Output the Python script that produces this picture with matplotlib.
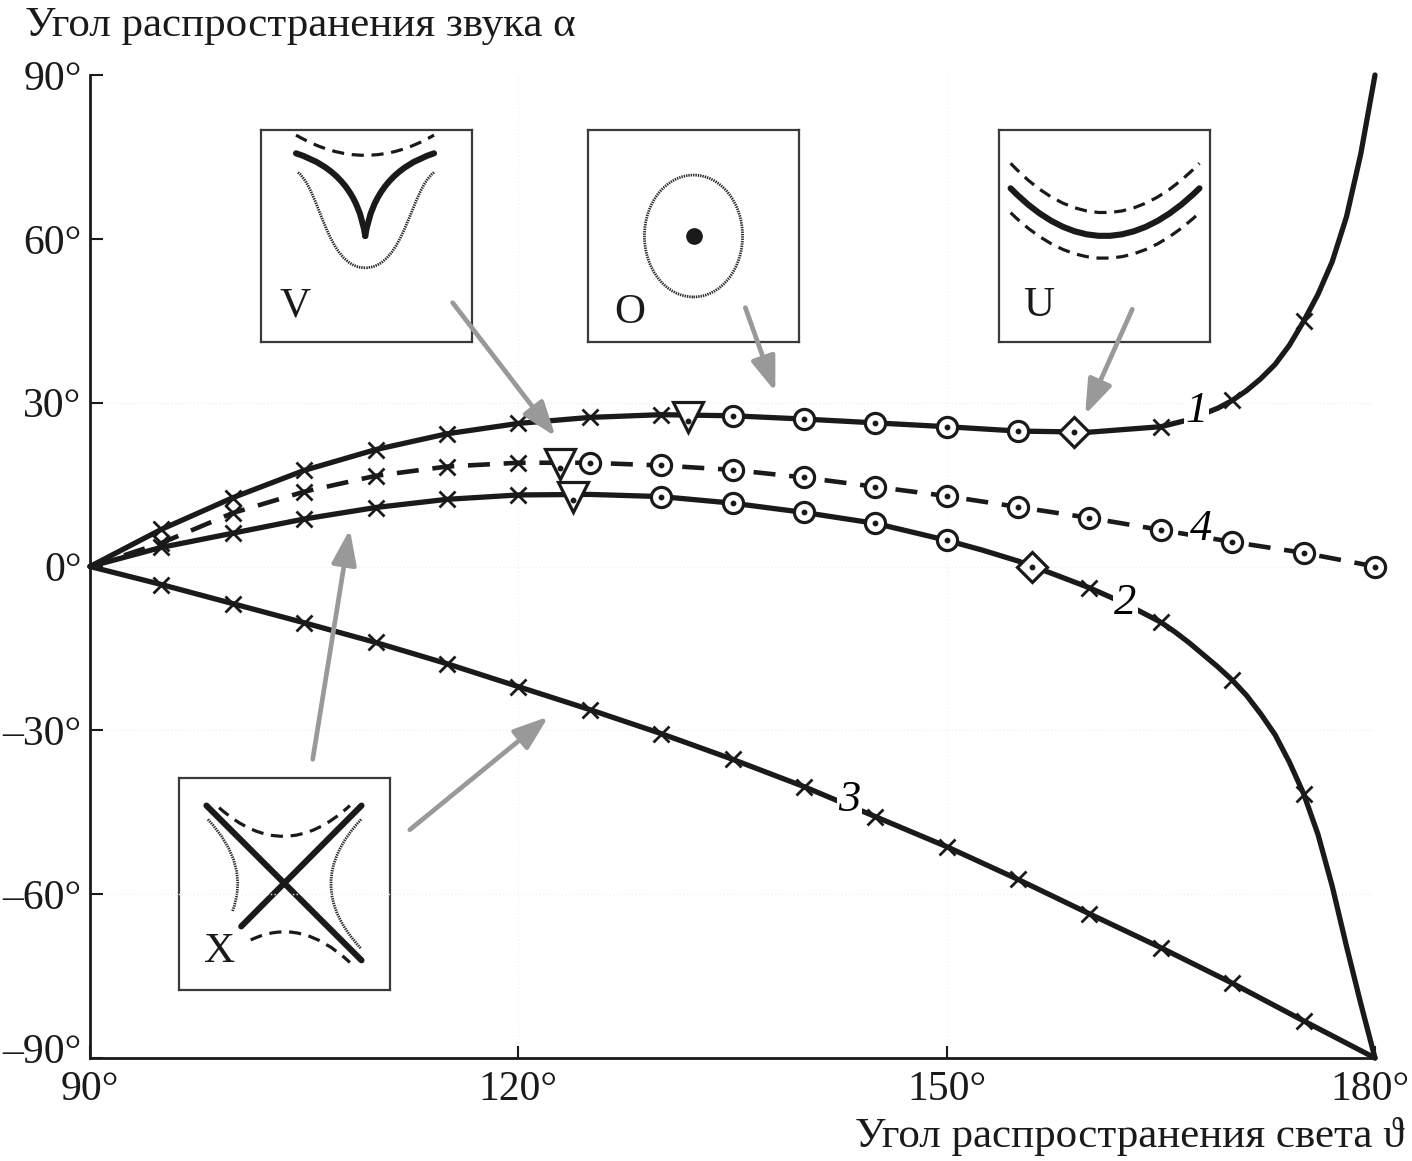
#!/usr/bin/env python3
"""
Sound propagation angle alpha vs light propagation angle theta,
four branches with interaction-type insets (V, O, U, X).
Writes out.png
"""

import matplotlib.pyplot as plt
from matplotlib.path import Path
from matplotlib.patches import PathPatch, Ellipse
from matplotlib.transforms import ScaledTranslation

plt.rcParams["font.family"] = ["Liberation Serif", "DejaVu Serif"]

# ---- curve data (degrees) ----
c1_x = [90, 95, 100, 105, 110, 115, 120, 125, 130, 135, 140, 145, 150, 155, 160, 165,
        167, 169, 170, 171, 172, 173, 174, 175, 176, 177, 178, 179, 180]
c1_y = [0, 6.8, 12.6, 17.6, 21.4, 24.3, 26.2, 27.3, 27.8, 27.6, 27.0, 26.3, 25.6, 24.8,
        24.6, 25.6, 26.9, 29.0, 30.4, 32.2, 34.4, 37.0, 40.5, 44.9, 49.8, 55.8, 64.0,
        75.5, 90]

c2_x = [90, 95, 100, 105, 110, 115, 120, 125, 130, 135, 140, 145, 150, 152.5, 155, 157.5,
        160, 162.5, 165, 166, 167, 168, 169, 170, 171, 172, 173, 174, 175, 176, 177, 178,
        179, 180]
c2_y = [0, 3.5, 6.1, 8.7, 10.8, 12.3, 13.1, 13.2, 12.8, 11.6, 9.9, 7.9, 4.8, 3.0, 1.0,
        -1.4, -3.9, -6.8, -10.2, -12.0, -14.0, -16.2, -18.4, -20.8, -23.6, -27.0, -30.8,
        -35.8, -41.6, -49.0, -58.5, -69.5, -80.0, -90]

c3_x = [90, 95, 100, 105, 110, 115, 120, 125, 130, 135, 140, 145, 150, 155, 160, 165,
        170, 175, 180]
c3_y = [0, -3.3, -6.8, -10.3, -13.9, -17.8, -22.0, -26.2, -30.6, -35.3, -40.3, -45.8,
        -51.3, -57.3, -63.6, -69.8, -76.3, -83.2, -90]

c4_x = [90, 95, 100, 105, 110, 115, 120, 125, 130, 135, 140, 145, 150, 155, 160, 165,
        170, 175, 180]
c4_y = [0, 4.3, 9.8, 13.7, 16.6, 18.3, 19.0, 19.0, 18.5, 17.7, 16.3, 14.6, 12.9, 10.9,
        8.9, 6.7, 4.5, 2.5, 0]

# marker positions (which points carry which symbol)
c1_cross_x = [95, 100, 105, 110, 115, 120, 125, 130, 165, 170, 175]
c1_cross_y = [6.8, 12.6, 17.6, 21.4, 24.3, 26.2, 27.3, 27.8, 25.6, 30.4, 44.9]
c1_tri = (131.9, 27.3)
c1_circ_x = [135, 140, 145, 150, 155]
c1_circ_y = [27.6, 27.0, 26.3, 25.6, 24.8]
c1_diam = (158.9, 24.6)

c2_cross_x = [95, 100, 105, 110, 115, 120, 160, 165, 170, 175]
c2_cross_y = [3.5, 6.1, 8.7, 10.8, 12.3, 13.1, -3.9, -10.2, -20.8, -41.6]
c2_tri = (123.8, 12.8)
c2_circ_x = [130, 135, 140, 145, 150]
c2_circ_y = [12.8, 11.6, 9.9, 7.9, 4.8]
c2_diam = (156.0, 0.0)

c3_cross_x = [95, 100, 105, 110, 115, 120, 125, 130, 135, 140, 145, 150, 155, 160, 165, 170, 175]
c3_cross_y = [-3.3, -6.8, -10.3, -13.9, -17.8, -22.0, -26.2, -30.6, -35.3, -40.3, -45.8,
              -51.3, -57.3, -63.6, -69.8, -76.3, -83.2]

c4_cross_x = [95, 100, 105, 110, 115, 120]
c4_cross_y = [4.3, 9.8, 13.7, 16.6, 18.3, 19.0]
c4_tri = (122.9, 18.7)
c4_circ_x = [125, 130, 135, 140, 145, 150, 155, 160, 165, 170, 175, 180]
c4_circ_y = [19.0, 18.5, 17.7, 16.3, 14.6, 12.9, 10.9, 8.9, 6.7, 4.5, 2.5, 0]

curve_labels = ["1", "2", "3", "4"]
curve_label_xy = [(167.5, 28.4), (162.5, -6.6), (143.2, -42.7), (167.8, 6.9)]

x_ticks = [90, 120, 150, 180]
x_ticklabels = ["90°", "120°", "150°", "180°"]
y_ticks = [90, 60, 30, 0, -30, -60, -90]
y_ticklabels = ["90°", "60°", "30°", "0°", "\u201330°", "\u201360°", "\u201390°"]

# arrows from insets: (tail, head)
arrows = [
    ((115.4, 48.3), (122.6, 23.8)),
    ((135.9, 47.4), (138.0, 32.0)),
    ((163.0, 47.1), (159.7, 27.8)),
    ((105.6, -35.3), (108.2, 6.8)),
    ((112.4, -48.2), (122.1, -27.5)),
]

W, H = 1412, 1161
FS = 31
TFS = 30
fig = plt.figure(figsize=(W / 100, H / 100), dpi=100)
ax = fig.add_axes([90 / W, 103 / H, 1285 / W, 983 / H])
ax.set_zorder(5)
ax.patch.set_alpha(0)

LW = 3.8
K = "#1a1a1a"

# faint guide lines
for y in [30, 0, -30, -60]:
    ax.axhline(y, color="#f0f0f0", lw=1.0, ls=":", zorder=0)
for x in [120, 150]:
    ax.axvline(x, color="#f4f4f4", lw=1.0, ls=":", zorder=0)

ax.plot(c1_x, c1_y, color=K, lw=LW, solid_capstyle="round", solid_joinstyle="round",
        clip_on=False, zorder=2)
ax.plot(c2_x, c2_y, color=K, lw=LW, solid_capstyle="round", solid_joinstyle="round",
        clip_on=False, zorder=2)
ax.plot(c3_x, c3_y, color=K, lw=LW, solid_capstyle="round", clip_on=False, zorder=2)
ax.plot(c4_x, c4_y, color=K, lw=3.3, ls=(0, (4.8, 3.0)), clip_on=False, zorder=2)

cross_kw = dict(ls="none", marker="x", ms=11, mew=2.0, color=K, zorder=3, clip_on=False)
circ_kw = dict(ls="none", marker="o", ms=14.5, mew=2.3, mfc="white", mec=K, zorder=4,
               clip_on=False)
tri_kw = dict(ls="none", marker="v", ms=21, mew=2.3, mfc="white", mec=K, zorder=4)
diam_kw = dict(ls="none", marker="D", ms=15.5, mew=2.3, mfc="white", mec=K, zorder=4)
dot_kw = dict(ls="none", marker="o", ms=3.2, color=K, zorder=5, clip_on=False)

ax.plot(c1_cross_x, c1_cross_y, **cross_kw)
ax.plot(c2_cross_x, c2_cross_y, **cross_kw)
ax.plot(c3_cross_x, c3_cross_y, **cross_kw)
ax.plot(c4_cross_x, c4_cross_y, **cross_kw)

for cx, cy in [(c1_circ_x, c1_circ_y), (c2_circ_x, c2_circ_y), (c4_circ_x, c4_circ_y)]:
    ax.plot(cx, cy, **circ_kw)
    ax.plot(cx, cy, **dot_kw)
for t in [c1_tri, c2_tri, c4_tri]:
    ax.plot([t[0]], [t[1]], **tri_kw)
    ax.plot([t[0]], [t[1] - 0.6], **dot_kw)
for d in [c1_diam, c2_diam]:
    ax.plot([d[0]], [d[1]], **diam_kw)
    ax.plot([d[0]], [d[1]], **dot_kw)

for lab, (lx, ly) in zip(curve_labels, curve_label_xy):
    ax.text(lx, ly, lab, fontsize=32, style="italic", ha="center", va="center", zorder=6,
            bbox=dict(facecolor="white", edgecolor="none", pad=1.0))

for (tx, ty), (hx, hy) in arrows:
    ax.annotate("", xy=(hx, hy), xytext=(tx, ty), annotation_clip=False, zorder=7,
                arrowprops=dict(arrowstyle="-|>,head_length=2.1,head_width=0.75",
                                color="#999999", lw=3.4, shrinkA=0, shrinkB=0))

ax.set_xlim(90, 180)
ax.set_ylim(-90, 90)
ax.set_xticks(x_ticks)
ax.set_xticklabels(x_ticklabels)
ax.set_yticks(y_ticks)
ax.set_yticklabels(y_ticklabels)
ax.tick_params(direction="in", length=9, width=1.5, labelsize=TFS, colors=K)
ax.tick_params(axis="x", pad=9)
ax.tick_params(axis="y", pad=6)
for side in ["top", "right"]:
    ax.spines[side].set_visible(False)
for side in ["left", "bottom"]:
    ax.spines[side].set_linewidth(2.0)
    ax.spines[side].set_color(K)

# lift the bottom y label a little so it clears the first x label,
# and pull the last x label in so it stays on the canvas
lab_m90 = ax.get_yticklabels()[-1]
lab_m90.set_transform(lab_m90.get_transform() + ScaledTranslation(0, 7 / 72, fig.dpi_scale_trans))
lab_180 = ax.get_xticklabels()[-1]
lab_180.set_transform(lab_180.get_transform() + ScaledTranslation(-4 / 72, 0, fig.dpi_scale_trans))

fig.text(25 / W, 1 - 26 / H, "Угол распространения звука α", fontsize=FS,
         ha="left", va="center", color=K)
fig.text(855 / W, 1 - 1137 / H, "Угол распространения света ϑ", fontsize=FS,
         ha="left", va="center", color=K)

# ---- insets ----
Q = [Path.MOVETO, Path.CURVE3, Path.CURVE3]
C = [Path.MOVETO, Path.CURVE4, Path.CURVE4, Path.CURVE4]


def make_inset(px_left, px_top, letter, lxy):
    a = fig.add_axes([px_left / W, 1 - (px_top + 212) / H, 211 / W, 212 / H])
    a.set_zorder(1)
    a.set_xlim(0, 1)
    a.set_ylim(0, 1)
    a.set_xticks([])
    a.set_yticks([])
    for s in a.spines.values():
        s.set_linewidth(1.6)
        s.set_color("#3a3a3a")
    a.text(lxy[0], lxy[1], letter, fontsize=31, ha="center", va="center", color=K)
    return a


def add_path(a, verts, codes, **kw):
    a.add_patch(PathPatch(Path(verts, codes), fill=False, **kw))


thick = dict(lw=4.4, edgecolor=K, capstyle="round")
dashed = dict(lw=2.3, edgecolor=K, ls=(0, (3.8, 2.4)))
dotted = dict(lw=2.0, edgecolor="#2a2a2a", ls=(0, (0.5, 0.35)))

# V
v_ax = make_inset(261, 130, "V", (0.16, 0.17))
add_path(v_ax, [(0.166, 0.89), (0.45, 0.80), (0.494, 0.50)], Q, **thick)
add_path(v_ax, [(0.82, 0.89), (0.54, 0.80), (0.494, 0.50)], Q, **thick)
add_path(v_ax, [(0.166, 0.976), (0.494, 0.785), (0.82, 0.976)], Q, **dashed)
add_path(v_ax, [(0.175, 0.80), (0.28, 0.72), (0.31, 0.35), (0.494, 0.35)], C, **dotted)
add_path(v_ax, [(0.82, 0.80), (0.71, 0.72), (0.68, 0.35), (0.494, 0.35)], C, **dotted)

# O
o_ax = make_inset(588, 130, "O", (0.2, 0.14))
o_ax.add_patch(Ellipse((0.5, 0.5), 0.465, 0.575, fill=False, **dotted))
o_ax.plot([0.5], [0.5], marker="o", ms=11, color=K)

# U
u_ax = make_inset(999, 130, "U", (0.19, 0.17))
add_path(u_ax, [(0.055, 0.725), (0.495, 0.275), (0.95, 0.725)], Q, **thick)
add_path(u_ax, [(0.055, 0.843), (0.495, 0.377), (0.95, 0.843)], Q, **dashed)
add_path(u_ax, [(0.055, 0.61), (0.495, 0.18), (0.95, 0.61)], Q, **dashed)

# X
x_ax = make_inset(179, 778, "X", (0.19, 0.18))
add_path(x_ax, [(0.13, 0.87), (0.865, 0.14)], [Path.MOVETO, Path.LINETO], **thick)
add_path(x_ax, [(0.865, 0.87), (0.295, 0.30)], [Path.MOVETO, Path.LINETO], **thick)
add_path(x_ax, [(0.19, 0.86), (0.5, 0.585), (0.81, 0.87)], Q, **dashed)
add_path(x_ax, [(0.34, 0.236), (0.575, 0.349), (0.81, 0.13)], Q, **dashed)
add_path(x_ax, [(0.137, 0.805), (0.339, 0.588), (0.253, 0.37)], Q, **dotted)
add_path(x_ax, [(0.863, 0.805), (0.577, 0.5), (0.863, 0.195)], Q, **dotted)

fig.savefig("out.png", dpi=100, facecolor="white")
